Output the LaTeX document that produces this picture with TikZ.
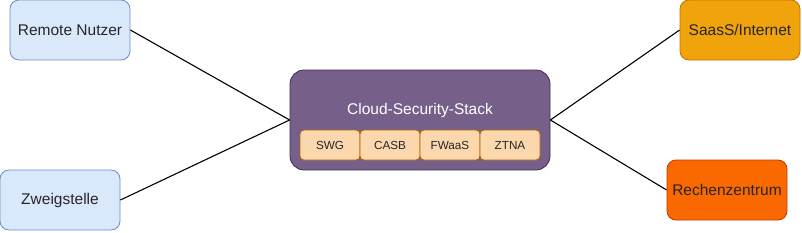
\documentclass[tikz,border=0pt]{standalone}
\usepackage{fontspec}
\setmainfont{Liberation Sans}
\definecolor{blueF}{HTML}{DAE8FC}
\definecolor{blueS}{HTML}{6C8EBF}
\definecolor{purF}{HTML}{76608A}
\definecolor{purS}{HTML}{432D57}
\definecolor{subF}{HTML}{FAD7AC}
\definecolor{subS}{HTML}{B46504}
\definecolor{saasF}{HTML}{F0A30A}
\definecolor{saasS}{HTML}{BD7000}
\definecolor{rzF}{HTML}{FA6800}
\definecolor{rzS}{HTML}{C73500}
\begin{document}
\begin{tikzpicture}[x=1bp,y=-1bp,
  box/.style={draw, line width=0.8bp, rounded corners=9bp, minimum width=120bp, minimum height=60bp, inner sep=0pt, font=\fontsize{15.5bp}{18bp}\selectfont, text=black!85},
  subbox/.style={draw=subS, fill=subF, line width=0.8bp, rounded corners=4bp, minimum width=60bp, minimum height=30bp, inner sep=0pt, font=\fontsize{11.7bp}{14bp}\selectfont, text=black!85},
  conn/.style={draw=black, line width=1.1bp}]
\useasboundingbox (0,0) rectangle (802,232);
\node[box, fill=blueF, draw=blueS] (rn) at (70,30) {Remote Nutzer};
\node[box, fill=blueF, draw=blueS] (zw) at (60,200) {Zweigstelle};
\node[draw=purS, fill=purF, line width=0.8bp, rounded corners=14bp, minimum width=260bp, minimum height=100bp, inner sep=0pt] (cs) at (420,120) {};
\node[text=white, font=\fontsize{15.5bp}{18bp}\selectfont] (cst) at (420,110) {Cloud-Security-Stack};
\node[subbox] (swg) at (330,145) {SWG};
\node[subbox] (casb) at (390,145) {CASB};
\node[subbox] (fw) at (450,145) {FWaaS};
\node[subbox] (ztna) at (510,145) {ZTNA};
\node[box, fill=saasF, draw=saasS] (saas) at (740,30) {SaasS/Internet};
\node[box, fill=rzF, draw=rzS] (rz) at (727,190) {Rechenzentrum};
\draw[conn] (rn.east) -- (cs.west);
\draw[conn] (zw.east) -- (cs.west);
\draw[conn] (cs.east) -- (saas.west);
\draw[conn] (cs.east) -- (rz.west);
\end{tikzpicture}
\end{document}
